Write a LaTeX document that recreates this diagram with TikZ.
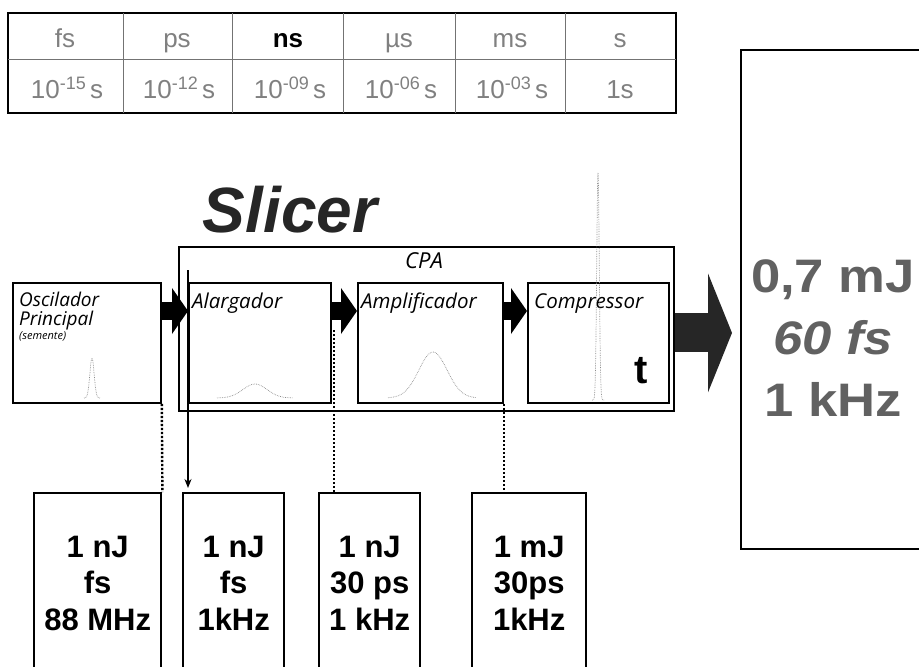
\documentclass[tikz,border=0pt]{standalone}
\usepackage{graphicx}
\usepackage{fontspec}
\setmainfont{Liberation Sans}
\newfontfamily\labelfont{Open Sans}
\usepackage{tikz,xcolor}
\usetikzlibrary{arrows.meta,calc}

\newcommand{\expo}[1]{\raisebox{9pt}{\fontsize{18}{18}\selectfont #1}}

\begin{document}
\begin{tikzpicture}[x=1pt,y=-1pt,
  stagebox/.style={draw, line width=1.8pt, minimum width=#1, minimum height=120pt, inner sep=0pt, anchor=north west},
  valbox/.style={draw, line width=2.4pt, minimum width=#1, minimum height=190pt, inner sep=0pt, anchor=north west},
  stagelbl/.style={anchor=base west, inner sep=0pt, font=\labelfont\itshape\fontsize{20.5}{20.5}\selectfont},
  vals/.style={align=center, inner sep=0pt, font=\bfseries\fontsize{31}{36.5}\selectfont},
  unit/.style={anchor=base, inner sep=0pt, font=\fontsize{26}{26}\selectfont, text=black!50},
  tabline/.style={black!55, line width=0.7pt},
  fatarrow/.style={line width=18pt, -{Triangle[length=16pt,width=46pt,line width=0pt]}},
  bigarrow/.style={black!85, line width=39pt, -{Triangle[length=24pt,width=119pt,line width=0pt]}},
  pulse/.style={black!45, densely dotted, line width=0.7pt},
  link/.style={line width=2.4pt, dash pattern=on 2.4pt off 1.6pt}
]
\useasboundingbox (0,0) rectangle (919,667);

% scale table
\draw[line width=2.5pt] (8,13) rectangle (676,113);
\draw[tabline] (8,59) -- (676,59);
\foreach \c in {123,232,343,455,565} \draw[tabline] (\c,13) -- (\c,113);

\foreach \u/\cx [count=\i] in {fs/65, ps/177, µs/399, ms/510, s/620}
  \node[unit] (u\i) at (\cx,47) {\u};
\node[unit, text=black, font=\bfseries\fontsize{26}{26}\selectfont] (uns) at (288,47) {ns};

\foreach \e/\cx [count=\i] in {-15/67, -12/179, -09/290, -06/401, -03/512}
  \node[unit] (p\i) at (\cx,98) {10\expo{\e}\,s};
\node[unit] (p6) at (620,98) {1s};

% Slicer + CPA
\node[anchor=base, inner sep=0pt, text=black!85, font=\bfseries\itshape\fontsize{64}{64}\selectfont] (slicer) at (290,232) {Slicer};

\node[draw, line width=1.8pt, minimum width=495pt, minimum height=164pt, inner sep=0pt, anchor=north west] (cpa) at (178,246) {};
\node[anchor=base, inner sep=0pt, font=\labelfont\itshape\fontsize{22}{22}\selectfont] (cpalbl) at (424,268) {CPA};

\node[stagebox=148pt] (osc) at (12,282) {};
\node[stagebox=142pt] (alar) at (188,282) {};
\node[stagebox=145pt] (amp) at (357,282) {};
\node[stagebox=141pt] (comp) at (527,282) {};

\node[stagelbl, font=\labelfont\itshape\fontsize{19}{19}\selectfont] (osclbl) at ([shift={(7pt,-24pt)}]osc.north west) {Oscilador};
\node[stagelbl, font=\labelfont\itshape\fontsize{19}{19}\selectfont] (osclbl2) at ([shift={(7pt,-43pt)}]osc.north west) {Principal};
\node[stagelbl, font=\labelfont\itshape\fontsize{11}{11}\selectfont] (osclbl3) at ([shift={(7pt,-57pt)}]osc.north west) {(semente)};
\node[stagelbl] (alarlbl) at ([shift={(4pt,-26pt)}]alar.north west) {Alargador};
\node[stagelbl] (amplbl) at ([shift={(4pt,-26pt)}]amp.north west) {Amplificador};
\node[stagelbl] (complbl) at ([shift={(7pt,-26pt)}]comp.north west) {Compressor};
\node[anchor=base, inner sep=0pt, font=\bfseries\fontsize{40}{40}\selectfont] (tlbl) at (641,383) {t};

% pulses
\draw[pulse] plot[domain=84:100, samples=30, smooth] (\x, {398-40*exp(-(\x-92)*(\x-92)/9)});
\draw[pulse] plot[domain=217:293, samples=40, smooth] (\x, {398-14*exp(-(\x-255)*(\x-255)/289)});
\draw[pulse] plot[domain=388:476, samples=40, smooth] (\x, {398-46*exp(-(\x-433)*(\x-433)/400)});
\draw[pulse] plot[domain=592:604, samples=60, smooth] (\x, {400-228*exp(-(\x-598)*(\x-598)/3.2)});

% arrows between stages
\draw[fatarrow] ([yshift=-29pt]osc.north east) -- ([yshift=-29pt]alar.north west);
\draw[fatarrow] ([yshift=-29pt]alar.north east) -- ([yshift=-29pt]amp.north west);
\draw[fatarrow] ([yshift=-29pt]amp.north east) -- ([yshift=-29pt]comp.north west);

% output
\node[draw, line width=1.8pt, minimum width=190pt, minimum height=499pt, inner sep=0pt, anchor=north west] (outbox) at (740,49) {};
\draw[bigarrow] ([yshift=-4pt]cpa.east) -- ([xshift=-8pt,yshift=-4pt]outbox.west |- cpa.east);
\node[align=center, inner sep=0pt, text=black!62, font=\bfseries\fontsize{47}{62}\selectfont] (outlbl) at (833,338)
  {\scalebox{1.12}[1]{0,7 mJ}\\\scalebox{1.12}[1]{\itshape 60 fs}\\\scalebox{1.12}[1]{1 kHz}};

% values below
\node[valbox=127pt] (b1) at (33,492) {};
\node[valbox=101pt] (b2) at (182,492) {};
\node[valbox=101pt] (b3) at (318,492) {};
\node[valbox=114pt] (b4) at (471,492) {};

\node[vals] (v1) at ([yshift=-91pt]b1.north) {1 nJ\\fs\\88 MHz};
\node[vals] (v2) at ([yshift=-91pt]b2.north) {1 nJ\\fs\\1kHz};
\node[vals] (v3) at ([yshift=-91pt]b3.north) {1 nJ\\30 ps\\1 kHz};
\node[vals] (v4) at ([yshift=-91pt]b4.north) {1 mJ\\30ps\\1kHz};

%links
\coordinate (tap) at (188,270);
\coordinate (tap2) at (334,330);
\draw[link] (osc.south east) -- (b1.north east);
\draw[line width=1.5pt, -{Stealth[length=9pt,width=7pt]}, shorten >=4pt] (tap) -- (tap |- b2.north);
\draw[link] (tap2) -- (tap2 |- b3.north);
\draw[link] (amp.south east) -- (amp.south east |- b4.north);
\end{tikzpicture}
\end{document}
